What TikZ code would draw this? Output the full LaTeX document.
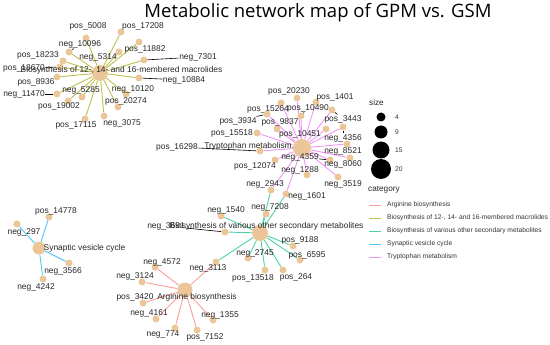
\documentclass[tikz,border=0pt]{standalone}
\usepackage{fontspec}
\setmainfont{Liberation Sans}
\newfontfamily\titlefont{Open Sans}
\usetikzlibrary{backgrounds}
\definecolor{dotFill}{RGB}{234,198,152}
\definecolor{argLine}{RGB}{250,159,153}
\definecolor{macLine}{RGB}{190,192,76}
\definecolor{secLine}{RGB}{76,210,164}
\definecolor{synLine}{RGB}{76,199,248}
\definecolor{tryLine}{RGB}{238,151,247}

\begin{document}
\begin{tikzpicture}[x=1pt, y=-1pt,
    dot/.style={circle, fill=dotFill, inner sep=0pt, minimum size=7pt},
    hub/.style={circle, fill=dotFill, inner sep=0pt, minimum size=#1},
    lab/.style={font=\fontsize{8.4}{9}\selectfont, inner sep=0.5pt, text=black!85},
    edge/.style={line width=0.9pt},
    leader/.style={black, line width=0.6pt},
    legtext/.style={anchor=west, font=\fontsize{6.7}{7}\selectfont, inner sep=0pt, text=black!80},
    legtitle/.style={anchor=west, font=\fontsize{8.2}{9}\selectfont, inner sep=0pt, text=black!85}]
    \useasboundingbox (0,0) rectangle (550,345);

    \node[font=\titlefont\fontsize{18.5}{20}\selectfont, anchor=base, inner sep=0pt] (title) at (318,18) {Metabolic network map of GPM vs. GSM};

    % hubs
    \node[hub=16pt] (M) at (100,73) {};
    \node[hub=18pt] (T) at (302,148) {};
    \node[hub=16pt] (S) at (260,233) {};
    \node[hub=15pt] (A) at (185,290) {};
    \node[hub=13pt] (V) at (39,248) {};

    % macrolides
    \foreach \n/\txt/\x/\y/\lx/\ly in {p5008/pos\_5008/86/38/88/26, p17208/pos\_17208/121/32/143/26,
        p11882/pos\_11882/139/42/145/49, n10096/neg\_10096/69/52/80/44, p18233/pos\_18233/63/61/38/55,
        n5314/neg\_5314/119/52/98/57, n7301/neg\_7301/144/60/198/57, p18670/pos\_18670/60/67/24/68,
        p8936/pos\_8936/57/77/36/82, n10884/neg\_10884/139/78/184/80, n11470/neg\_11470/57/94/24/94,
        n5285/neg\_5285/82/97/81/90, n10120/neg\_10120/126/94/133/89, p19002/pos\_19002/68/101/59/106,
        p20274/pos\_20274/118/107/126/101, p17115/pos\_17115/85/119/76/125, n3075/neg\_3075/104/116/122/123} {
        \node[dot] (\n) at (\x,\y) {};
        \node[lab] (l\n) at (\lx,\ly) {\txt};
        \begin{pgfonlayer}{background}\draw[edge, macLine] (M) -- (\n);\end{pgfonlayer}
    }

    % tryptophan
    \foreach \n/\txt/\x/\y/\lx/\ly in {p20230/pos\_20230/297/98/289/91, p1401/pos\_1401/316/102/335/97,
        p15264/pos\_15264/281/103/268/109, p10490/pos\_10490/301/116/308/108, p3934/pos\_3934/267/114/238/121,
        p9837/pos\_9837/277/129/280/122, p3443/pos\_3443/332/110/343/119, p10451/pos\_10451/326/129/300/134,
        p15518/pos\_15518/257/133/232/133, p16298/pos\_16298/260/151/177/147, n4356/neg\_4356/343/127/343/138,
        n8521/neg\_8521/347/144/343/151, n4359/neg\_4359/330/160/300/157, p12074/pos\_12074/275/160/255/166,
        n1288/neg\_1288/307/175/300/170, n8060/neg\_8060/350/158/343/164, n3519/neg\_3519/338/177/343/184,
        n2943/neg\_2943/271/190/265/184, n1601/neg\_1601/286/194/307/196} {
        \node[dot] (\n) at (\x,\y) {};
        \node[lab] (l\n) at (\lx,\ly) {\txt};
        \begin{pgfonlayer}{background}\draw[edge, tryLine] (T) -- (\n);\end{pgfonlayer}
    }

    % secondary metabolites
    \foreach \n/\txt/\x/\y/\lx/\ly in {n7208/neg\_7208/266/214/270/207, n1540/neg\_1540/221/216/226/210,
        n3691/neg\_3691/225/232/166/226, p9188/pos\_9188/293/246/300/240, p6595/pos\_6595/300/260/307/255,
        n2745/neg\_2745/248/258/255/253, p13518/pos\_13518/265/270/253/278, p264/pos\_264/283/270/296/277} {
        \node[dot] (\n) at (\x,\y) {};
        \node[lab] (l\n) at (\lx,\ly) {\txt};
        \begin{pgfonlayer}{background}\draw[edge, secLine] (S) -- (\n);\end{pgfonlayer}
    }

    % arginine
    \foreach \n/\txt/\x/\y/\lx/\ly in {n3113/neg\_3113/216/262/208/268, n4572/neg\_4572/155/267/162/262,
        n3124/neg\_3124/142/282/135/276, p3420/pos\_3420/143/303/135/297, n4161/neg\_4161/156/319/149/313,
        n774/neg\_774/175/328/163/334, p7152/pos\_7152/197/330/205/337, n1355/neg\_1355/213/320/220/315} {
        \node[dot] (\n) at (\x,\y) {};
        \node[lab] (l\n) at (\lx,\ly) {\txt};
        \begin{pgfonlayer}{background}\draw[edge, argLine] (A) -- (\n);\end{pgfonlayer}
    }

    % synaptic vesicle cycle
    \foreach \n/\txt/\x/\y/\lx/\ly in {p14778/pos\_14778/49/217/56/211, n297/neg\_297/17/224/24/232,
        n3566/neg\_3566/69/263/63/271, n4242/neg\_4242/43/279/36/287} {
        \node[dot] (\n) at (\x,\y) {};
        \node[lab] (l\n) at (\lx,\ly) {\txt};
        \begin{pgfonlayer}{background}\draw[edge, synLine] (V) -- (\n);\end{pgfonlayer}
    }

    % nodes shared between pathways
    \begin{pgfonlayer}{background}
        \draw[edge, secLine] (S) -- (n2943);
        \draw[edge, secLine] (S) -- (n1601);
        \draw[edge, secLine] (S) -- (n3113);
    \end{pgfonlayer}

    % hub labels
    \node[lab, anchor=west] (lM) at (20,70) {Biosynthesis of 12-, 14- and 16-membered macrolides};
    \node[lab] (lT) at (248,146) {Tryptophan metabolism};
    \node[lab, anchor=west] (lS) at (169,226) {Biosynthesis of various other secondary metabolites};
    \node[lab] (lA) at (197,297) {Arginine biosynthesis};
    \node[lab, anchor=west] (lV) at (43,248) {Synaptic vesicle cycle};

    % leaders
    \foreach \n in {n10096, n7301, p18670, n10884, n11470, p10490, p3934, p3443, p16298, n4356, n4359, n3691}
        \draw[leader] (l\n) -- (\n);
    \draw[leader] (lT) -- (T);

    % legend
    \node[legtitle] (sizeTitle) at (369,103) {size};
    \foreach \v/\r/\y in {4/4.5/117, 9/6.5/132, 15/8.5/150, 20/10/169} {
        \fill (381,\y) circle (\r);
        \node[legtext] at (395,\y) {\v};
    }
    \node[legtitle] (catTitle) at (368,190) {category};
    \foreach \c/\txt [count=\i] in {argLine/{Arginine biosynthesis}, macLine/{Biosynthesis of 12-, 14- and 16-membered macrolides},
        secLine/{Biosynthesis of various other secondary metabolites}, synLine/{Synaptic vesicle cycle}, tryLine/{Tryptophan metabolism}} {
        \draw[\c, line width=0.8pt] (369,{192+13*\i}) -- (381,{192+13*\i});
        \node[legtext] at (387,{192+13*\i}) {\txt};
    }
\end{tikzpicture}
\end{document}
